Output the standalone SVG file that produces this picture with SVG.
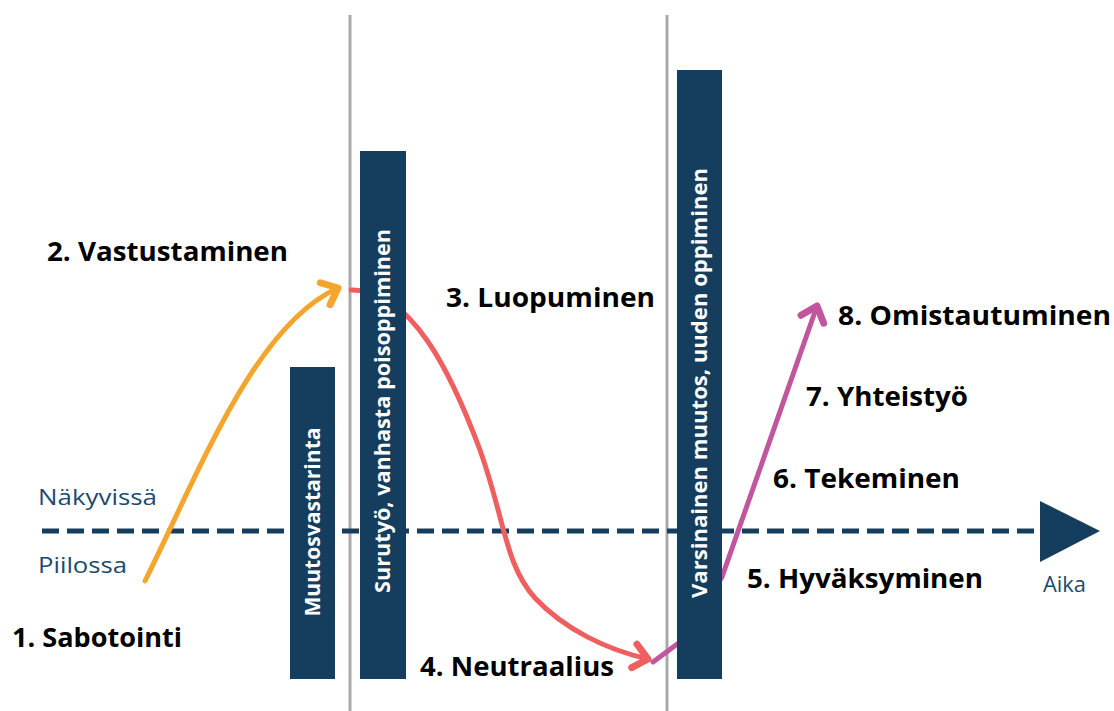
<svg xmlns="http://www.w3.org/2000/svg" width="1114" height="711" viewBox="0 0 1114 711">
  <style>
    .bar { fill: #153e5e; }
    .barText { fill: #ffffff; font-family: "Open Sans", "Liberation Sans", sans-serif; font-weight: 700; font-size: 21px; text-anchor: middle; }
    .stage { fill: #000000; font-family: "Open Sans", "Liberation Sans", sans-serif; font-weight: 700; font-size: 27px; }
    .axisText { fill: #1c4a6e; font-family: "Open Sans", "Liberation Sans", sans-serif; font-weight: 400; font-size: 22px; }
    .divider { stroke: #a9a9a9; stroke-width: 3; fill: none; }
    .curve { fill: none; stroke-width: 5; stroke-linecap: round; stroke-linejoin: round; }
  </style>
  <defs>
    <marker id="arrOrange" markerUnits="userSpaceOnUse" orient="auto" markerWidth="40" markerHeight="40" refX="0" refY="0" viewBox="-20 -20 40 40" overflow="visible">
      <path d="M-14,-12 L0,0 L-14,12" fill="none" stroke="#f4a52e" stroke-width="7" stroke-linecap="round" stroke-linejoin="round"/>
    </marker>
    <marker id="arrRed" markerUnits="userSpaceOnUse" orient="auto" markerWidth="40" markerHeight="40" refX="0" refY="0" viewBox="-20 -20 40 40" overflow="visible">
      <path d="M-14,-12 L0,0 L-14,12" fill="none" stroke="#ee5f5f" stroke-width="7" stroke-linecap="round" stroke-linejoin="round"/>
    </marker>
    <marker id="arrPurple" markerUnits="userSpaceOnUse" orient="auto" markerWidth="40" markerHeight="40" refX="0" refY="0" viewBox="-20 -20 40 40" overflow="visible">
      <path d="M-14,-12 L0,0 L-14,12" fill="none" stroke="#c1569f" stroke-width="7" stroke-linecap="round" stroke-linejoin="round"/>
    </marker>
  </defs>

  <rect width="1114" height="711" fill="#ffffff"/>

  <g id="dividers">
    <line class="divider" x1="350" y1="15" x2="350" y2="711"/>
    <line class="divider" x1="667" y1="15" x2="667" y2="711"/>
  </g>

  <g id="time-axis">
    <line x1="42" y1="531" x2="1040" y2="531" stroke="#153e5e" stroke-width="5" stroke-dasharray="17 8"/>
    <polygon points="1040,501 1100,531 1040,562" fill="#153e5e"/>
    <text class="axisText" x="38" y="505" textLength="119" lengthAdjust="spacingAndGlyphs">Näkyvissä</text>
    <text class="axisText" x="38" y="573" textLength="89" lengthAdjust="spacingAndGlyphs">Piilossa</text>
    <text class="axisText" x="1043" y="592" textLength="43" lengthAdjust="spacingAndGlyphs">Aika</text>
  </g>

  <g id="connectors">
    <path class="curve" stroke="#f4a52e" d="M145,581 C200,470 255,325 338,288" marker-end="url(#arrOrange)"/>
    <path class="curve" stroke="#ee5f5f" d="M351,290 C412,289 452,375 480,450 C505,520 505,565 535,598 C565,630 608,650 648,659" marker-end="url(#arrRed)"/>
    <path class="curve" stroke="#c1569f" d="M653,662 L680,642 L722,577 L817,306" marker-end="url(#arrPurple)"/>
  </g>

  <g id="bar-muutosvastarinta">
    <rect class="bar" x="290" y="367" width="45" height="312"/>
    <text class="barText" transform="translate(320,522) rotate(-90)" textLength="189" lengthAdjust="spacingAndGlyphs">Muutosvastarinta</text>
  </g>
  <g id="bar-surutyo">
    <rect class="bar" x="360" y="151" width="46" height="528"/>
    <text class="barText" transform="translate(390,411) rotate(-90)" textLength="364" lengthAdjust="spacingAndGlyphs">Surutyö, vanhasta poisoppiminen</text>
  </g>
  <g id="bar-varsinainen">
    <rect class="bar" x="677" y="70" width="45" height="609"/>
    <text class="barText" transform="translate(707,383) rotate(-90)" textLength="430" lengthAdjust="spacingAndGlyphs">Varsinainen muutos, uuden oppiminen</text>
  </g>

  <g id="stage-1"><text class="stage" x="12" y="647" textLength="170" lengthAdjust="spacingAndGlyphs">1. Sabotointi</text></g>
  <g id="stage-2"><text class="stage" x="47" y="261" textLength="241" lengthAdjust="spacingAndGlyphs">2. Vastustaminen</text></g>
  <g id="stage-3"><text class="stage" x="446" y="307" textLength="209" lengthAdjust="spacingAndGlyphs">3. Luopuminen</text></g>
  <g id="stage-4"><text class="stage" x="420" y="676" textLength="194" lengthAdjust="spacingAndGlyphs">4. Neutraalius</text></g>
  <g id="stage-5"><text class="stage" x="747" y="588" textLength="236" lengthAdjust="spacingAndGlyphs">5. Hyväksyminen</text></g>
  <g id="stage-6"><text class="stage" x="773" y="488" textLength="187" lengthAdjust="spacingAndGlyphs">6. Tekeminen</text></g>
  <g id="stage-7"><text class="stage" x="806" y="406" textLength="162" lengthAdjust="spacingAndGlyphs">7. Yhteistyö</text></g>
  <g id="stage-8"><text class="stage" x="838" y="325" textLength="273" lengthAdjust="spacingAndGlyphs">8. Omistautuminen</text></g>
</svg>
